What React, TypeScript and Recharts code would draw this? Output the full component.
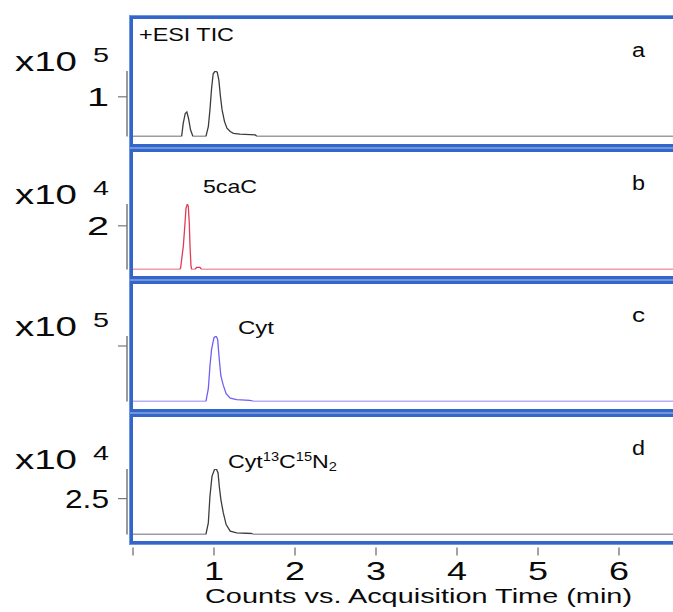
import { LineChart, Line, XAxis, YAxis } from 'recharts'

// +ESI TIC, counts x10^5
const ticTime = [0, 0.6, 0.62, 0.645, 0.665, 0.685, 0.71, 0.74, 0.9, 0.93, 0.95, 0.97, 0.99, 1.015, 1.04, 1.06, 1.08, 1.1, 1.13, 1.16, 1.2, 1.24, 1.32, 1.51, 1.53, 7]
const ticCounts = [0, 0, 0.33, 0.58, 0.62, 0.46, 0.17, 0, 0, 0.25, 0.67, 1.21, 1.58, 1.65, 1.62, 1.42, 1.0, 0.67, 0.375, 0.21, 0.125, 0.08, 0.06, 0.04, 0, 0]

// 5caC, counts x10^4
const cacTime = [0, 0.578, 0.588, 0.621, 0.642, 0.654, 0.671, 0.683, 0.695, 0.704, 0.716, 0.724, 0.765, 0.785, 0.826, 0.846, 7]
const cacCounts = [0, 0, 0.08, 1.06, 2.12, 2.8, 3.0, 2.88, 2.12, 1.06, 0.15, 0, 0, 0.1, 0.1, 0, 0]

// Cyt, counts x10^5
const cytTime = [0, 0.9, 0.93, 0.95, 0.97, 1.0, 1.025, 1.045, 1.065, 1.085, 1.115, 1.15, 1.2, 1.28, 1.44, 1.49, 7]
const cytCounts = [0, 0, 0.23, 0.64, 0.94, 1.15, 1.18, 1.12, 0.76, 0.46, 0.29, 0.14, 0.06, 0.035, 0.02, 0, 0]

// Cyt 13C 15N2, counts x10^4
const cytIsoTime = [0, 0.9, 0.93, 0.95, 0.975, 1.005, 1.03, 1.05, 1.065, 1.085, 1.115, 1.15, 1.2, 1.28, 1.46, 1.49, 7]
const cytIsoCounts = [0, 0, 0.81, 2.66, 4.05, 4.51, 4.56, 4.28, 3.36, 2.43, 1.5, 0.69, 0.23, 0.12, 0.07, 0, 0]

const xTicks = [0, 1, 2, 3, 4, 5, 6]
const panelLetters = ['a', 'b', 'c', 'd']
const exponents = ['5', '4', '5', '4']
const yTickValues = [1, 2, 1, 2.5]
const yTickLabels = ['1', '2', '', '2.5']
const yMax = [1.65, 3.0, 1.18, 4.56]

const FONT = '"Liberation Sans", Arial, Helvetica, sans-serif'
const INK = '#0a0a0a'
const BLUE = '#3366c8'
const TOPS = [15, 147.5, 280, 412.5]
const PANEL_H = 132.5
const CHART_W = 700
const X_AXIS_H = 70

const zip = (t: number[], v: number[]) => t.map((time, i) => ({ t: time, v: v[i] }))

const panels = [
  { data: zip(ticTime, ticCounts), color: '#3c3c3c' },
  { data: zip(cacTime, cacCounts), color: '#e33b55' },
  { data: zip(cytTime, cytCounts), color: '#6f5ff2' },
  { data: zip(cytIsoTime, cytIsoCounts), color: '#3c3c3c' },
]

function YTick(props: any) {
  const { x, y, label } = props
  if (!label) return <g />
  return (
    <text
      x={x}
      y={y + 9}
      textAnchor="end"
      fontSize={26}
      fontFamily={FONT}
      fill={INK}
      textLength={label.length > 1 ? 44 : 22}
      lengthAdjust="spacingAndGlyphs"
    >
      {label}
    </text>
  )
}

function XTick(props: any) {
  const { x, y, payload } = props
  return (
    <g>
      <line x1={x} x2={x} y1={y + 13} y2={y + 21} stroke="#666" strokeWidth={1.2} />
      {payload.value !== 0 && (
        <text
          x={x}
          y={y + 45}
          textAnchor="middle"
          fontSize={25}
          fontFamily={FONT}
          fill={INK}
          textLength={20}
          lengthAdjust="spacingAndGlyphs"
        >
          {payload.value}
        </text>
      )}
    </g>
  )
}

function Panel({ i }: { i: number }) {
  const last = i === panels.length - 1
  const p = panels[i]
  return (
    <div style={{ position: 'absolute', left: 0, top: TOPS[i] }}>
      <LineChart
        width={CHART_W}
        height={last ? PANEL_H - 11 + X_AXIS_H : PANEL_H}
        data={p.data}
        margin={{ top: 56, right: 0, bottom: last ? 0 : 11, left: 0 }}
      >
        <XAxis
          type="number"
          dataKey="t"
          domain={[0, 7]}
          ticks={xTicks}
          allowDataOverflow
          padding={{ left: 6, right: 0 }}
          hide={!last}
          height={last ? X_AXIS_H : 0}
          axisLine={false}
          tickLine={false}
          tickSize={0}
          tickMargin={0}
          interval={0}
          tick={(tp: any) => <XTick {...tp} />}
        />
        <YAxis
          type="number"
          width={127}
          domain={[0, yMax[i]]}
          allowDataOverflow
          ticks={[yTickValues[i]]}
          tickSize={9}
          tickMargin={9}
          axisLine={{ stroke: '#9a9a9a', strokeWidth: 2 }}
          tickLine={{ stroke: '#777', strokeWidth: 1.2 }}
          tick={(tp: any) => <YTick {...tp} label={yTickLabels[i]} />}
        />
        <Line
          type="linear"
          dataKey="v"
          stroke={p.color}
          strokeWidth={1.3}
          dot={false}
          isAnimationActive={false}
        />
      </LineChart>
    </div>
  )
}

const txt = (x: number, y: number, size: number, len: number, s: string) => (
  <text
    x={x}
    y={y}
    fontSize={size}
    fontFamily={FONT}
    fill={INK}
    textLength={len}
    lengthAdjust="spacingAndGlyphs"
  >
    {s}
  </text>
)

export default function App() {
  return (
    <div
      style={{
        position: 'absolute',
        left: 0,
        top: 0,
        width: 673,
        height: 612,
        overflow: 'hidden',
        background: '#fff',
      }}
    >
      {panels.map((_, i) => (
        <Panel key={i} i={i} />
      ))}
      {TOPS.map((top, i) => (
        <div
          key={'box' + i}
          style={{
            position: 'absolute',
            left: 129,
            top,
            width: 580,
            height: PANEL_H,
            boxSizing: 'border-box',
            border: '1px solid #6f97da',
            pointerEvents: 'none',
          }}
        >
          <div
            style={{
              width: '100%',
              height: '100%',
              boxSizing: 'border-box',
              border: `3px solid ${BLUE}`,
            }}
          />
        </div>
      ))}
      <svg
        width={673}
        height={612}
        style={{ position: 'absolute', left: 0, top: 0, pointerEvents: 'none' }}
      >
        {TOPS.map((top, i) => (
          <g key={'lab' + i}>
            {txt(15, top + 56, 27, 62, 'x10')}
            {txt(93, top + 47, 21, 16, exponents[i])}
            {txt(632, top + 42, 20, 13, panelLetters[i])}
          </g>
        ))}
        {txt(139, TOPS[0] + 26, 18, 95, '+ESI TIC')}
        {txt(203, TOPS[1] + 45, 19, 54, '5caC')}
        {txt(238, TOPS[2] + 54, 19, 36, 'Cyt')}
        <text
          x={228}
          y={TOPS[3] + 55}
          fontSize={19}
          fontFamily={FONT}
          fill={INK}
          textLength={109}
          lengthAdjust="spacingAndGlyphs"
        >
          Cyt
          <tspan fontSize={12} dy={-7}>13</tspan>
          <tspan fontSize={19} dy={7}>C</tspan>
          <tspan fontSize={12} dy={-7}>15</tspan>
          <tspan fontSize={19} dy={7}>N</tspan>
          <tspan fontSize={12} dy={3}>2</tspan>
        </text>
        {txt(205, 603, 21, 427, 'Counts vs. Acquisition Time (min)')}
      </svg>
    </div>
  )
}
